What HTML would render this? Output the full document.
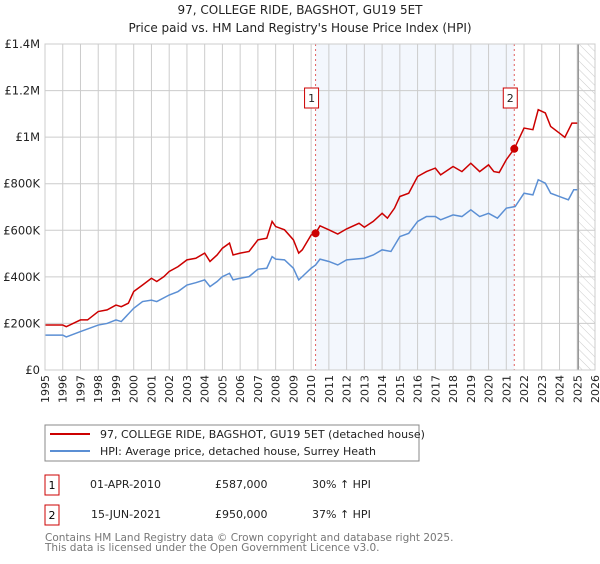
<!DOCTYPE html>
<html><head><meta charset="utf-8"><style>
body{margin:0;background:#fff;font-family:"DejaVu Sans","Liberation Sans",sans-serif}
svg text{font-family:"DejaVu Sans","Liberation Sans",sans-serif}
</style></head><body>
<svg id="c" width="600" height="560" xmlns="http://www.w3.org/2000/svg">
<defs><pattern id="hatch" width="6" height="6" patternUnits="userSpaceOnUse" patternTransform="rotate(-45)"><line x1="0" y1="0" x2="0" y2="6" stroke="#ccc" stroke-width="1"/></pattern></defs>
<text x="300" y="14" text-anchor="middle" font-size="12" fill="#222">97, COLLEGE RIDE, BAGSHOT, GU19 5ET</text>
<text x="300" y="32" text-anchor="middle" font-size="12" fill="#222">Price paid vs. HM Land Registry's House Price Index (HPI)</text>
<g id="plot"></g>
<rect x="45" y="425" width="374" height="36" fill="#fff" stroke="#888"/>
<line x1="50" y1="434" x2="90" y2="434" stroke="#cc0000" stroke-width="2"/>
<text x="100" y="438" font-size="11" fill="#222">97, COLLEGE RIDE, BAGSHOT, GU19 5ET (detached house)</text>
<line x1="50" y1="451" x2="90" y2="451" stroke="#5b8fd4" stroke-width="2"/>
<text x="100" y="455" font-size="11" fill="#222">HPI: Average price, detached house, Surrey Heath</text>
<g>
<rect x="45" y="475" width="14" height="20" fill="#fff" stroke="#cc0000"/><text x="52" y="489" text-anchor="middle" font-size="11">1</text>
<text x="90" y="488" font-size="11" fill="#222">01-APR-2010</text><text x="215" y="488" font-size="11" fill="#222">£587,000</text><text x="312" y="488" font-size="11" fill="#222">30% ↑ HPI</text></g>
<g>
<rect x="45" y="505" width="14" height="20" fill="#fff" stroke="#cc0000"/><text x="52" y="519" text-anchor="middle" font-size="11">2</text>
<text x="91" y="518" font-size="11" fill="#222">15-JUN-2021</text><text x="215" y="518" font-size="11" fill="#222">£950,000</text><text x="312" y="518" font-size="11" fill="#222">37% ↑ HPI</text></g>
<text x="45" y="541" font-size="10.5" fill="#777">Contains HM Land Registry data © Crown copyright and database right 2025.</text>
<text x="45" y="551" font-size="10.5" fill="#777">This data is licensed under the Open Government Licence v3.0.</text>
</svg>
<script>
const yTicks=[0,200000,400000,600000,800000,1000000,1200000,1400000];
const yTickLabels=["£0","£200K","£400K","£600K","£800K","£1M","£1.2M","£1.4M"];
const xYears=[1995,1996,1997,1998,1999,2000,2001,2002,2003,2004,2005,2006,2007,2008,2009,2010,2011,2012,2013,2014,2015,2016,2017,2018,2019,2020,2021,2022,2023,2024,2025,2026];
const hpiT=[1995,1996,1996.2,1997,1998,1998.5,1999,1999.3,2000,2000.5,2001,2001.3,2002,2002.5,2003,2003.5,2004,2004.3,2004.7,2005,2005.4,2005.6,2006,2006.5,2007,2007.5,2007.8,2008,2008.5,2009,2009.3,2009.5,2010,2010.25,2010.5,2011,2011.5,2012,2013,2013.5,2014,2014.5,2015,2015.5,2016,2016.5,2017,2017.3,2018,2018.5,2019,2019.5,2020,2020.5,2021,2021.5,2022,2022.5,2022.8,2023.2,2023.5,2024,2024.5,2024.8,2025];
const hpiV=[150,150,142,165,193,200,215,208,265,294,300,294,322,337,365,375,387,358,380,401,415,387,394,401,433,437,487,476,473,437,387,401,437,451,476,466,451,473,480,494,516,509,573,587,638,659,659,645,666,659,688,659,673,652,695,702,759,752,817,802,759,745,731,774,774];
const priceT=[1995,1996,1996.2,1997,1997.4,1998,1998.5,1999,1999.3,1999.7,2000,2000.5,2001,2001.3,2001.7,2002,2002.5,2003,2003.5,2004,2004.3,2004.7,2005,2005.4,2005.6,2006,2006.5,2007,2007.5,2007.8,2008,2008.5,2009,2009.3,2009.5,2010,2010.25,2010.5,2011,2011.5,2012,2012.7,2013,2013.5,2014,2014.3,2014.7,2015,2015.5,2016,2016.5,2017,2017.3,2018,2018.5,2019,2019.5,2020,2020.3,2020.6,2021,2021.45,2022,2022.5,2022.8,2023.2,2023.5,2024,2024.3,2024.7,2025];
const priceV=[193,193,186,215,215,251,258,279,272,287,337,365,394,380,401,423,444,473,480,502,466,494,523,545,494,502,509,559,566,638,616,602,559,502,516,580,587,619,602,584,606,630,613,638,673,652,695,745,759,831,852,867,838,874,852,888,852,881,852,848,903,950,1039,1032,1118,1104,1046,1017,999,1060,1060];
const saleT=[2010.25,2021.45];
const saleV=[587000,950000];
const saleLabels=["1","2"];

const NS="http://www.w3.org/2000/svg";
const X0=45,X1=595,Y0=370,Y1=44;
const xs=t=>X0+(t-1995)/(2026-1995)*(X1-X0);
const ys=v=>Y0-v/1400000*(Y0-Y1);
const g=document.getElementById('plot');
function mk(tag,a){const e=document.createElementNS(NS,tag);for(const k in a)e.setAttribute(k,a[k]);g.appendChild(e);return e;}
let e;
e=mk('rect',{x:xs(saleT[0]),y:Y1,width:xs(saleT[1])-xs(saleT[0]),height:Y0-Y1,fill:'#eef3fc',opacity:0.7});


e=mk('rect',{x:xs(2025),y:Y1,width:X1-xs(2025),height:Y0-Y1,fill:'url(#hatch)'});


xYears.forEach(y=>{
  e=mk('line',{x1:xs(y),x2:xs(y),y1:Y1,y2:Y0,stroke:'#ccc','stroke-width':1});
  
  
  e=mk('text',{x:0,y:0,'font-size':11,fill:'#222','text-anchor':'end',transform:`translate(${xs(y)+4},375) rotate(-90)`});
  e.textContent=y;
  
  
});
yTicks.forEach((v,i)=>{
  e=mk('line',{x1:X0,x2:X1,y1:ys(v),y2:ys(v),stroke:'#ccc','stroke-width':1});
  
  
  e=mk('text',{x:40,y:ys(v)+4,'font-size':11.5,fill:'#222','text-anchor':'end'});
  e.textContent=yTickLabels[i];
  
  
});
e=mk('line',{x1:xs(2025)+1,x2:xs(2025)+1,y1:Y1,y2:Y0,stroke:'#999','stroke-width':1.5});


saleT.forEach((t,i)=>{
  e=mk('line',{x1:xs(t),x2:xs(t),y1:Y1,y2:Y0,stroke:'#e06060','stroke-width':1,'stroke-dasharray':'2,3'});
  
  
});
e=mk('polyline',{points:hpiT.map((t,i)=>xs(t)+','+ys(hpiV[i]*1000)).join(' '),fill:'none',stroke:'#5b8fd4','stroke-width':1.5});


e=mk('polyline',{points:priceT.map((t,i)=>xs(t)+','+ys(priceV[i]*1000)).join(' '),fill:'none',stroke:'#cc0000','stroke-width':1.5});


saleT.forEach((t,i)=>{
  e=mk('circle',{cx:xs(t),cy:ys(saleV[i]),r:4,fill:'#cc0000'});
  
  
  e=mk('rect',{x:xs(t)-11,y:88,width:14,height:20,fill:'#fff',stroke:'#cc0000'});
  
  
  e=mk('text',{x:xs(t)-4,y:102,'font-size':11,'text-anchor':'middle',fill:'#222'});
  e.textContent=saleLabels[i];
  
  
});
e=mk('rect',{x:X0,y:Y1,width:X1-X0,height:Y0-Y1,fill:'none',stroke:'#ccc'});


</script>
</body></html>
